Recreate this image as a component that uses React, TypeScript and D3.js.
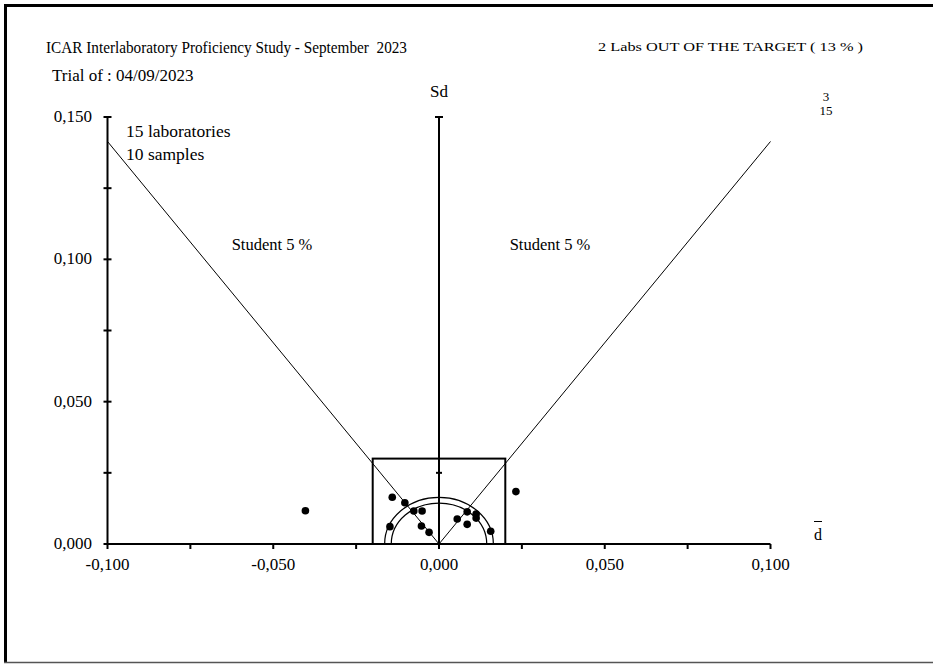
import React from "react";
import * as d3 from "d3";

const titleText = "ICAR Interlaboratory Proficiency Study - September\u00a0 2023";
const outOfTarget = "2 Labs OUT OF THE TARGET ( 13 % )";
const trialText = "Trial of : 04/09/2023";
const infoLines = ["15 laboratories", "10 samples"];
const cornerNums = ["3", "15"];
const studentLabel = "Student 5 %";

const xTicks = [-0.1, -0.05, 0, 0.05, 0.1];
const yTicks = [0, 0.05, 0.1, 0.15];
const minorStep = 0.025;

// lab results: mean deviation (d̄) and standard deviation (Sd)
const labD = [-0.0141, -0.0103, -0.0076, -0.0051, -0.0148, -0.0053, -0.003, 0.0055, 0.0085, 0.0112, 0.0112, 0.0085, 0.0156, 0.0232, -0.0403];
const labSd = [0.0164, 0.0145, 0.0116, 0.0116, 0.0061, 0.0063, 0.0041, 0.0088, 0.0113, 0.0105, 0.0091, 0.0069, 0.0045, 0.0184, 0.0117];

const studentSlope = 1.414;
const targetBox = { d: 0.02, sd: 0.03 };
const circleRadii = [0.0164, 0.0144];

const fmt = (v: number) => d3.format(".3f")(v).replace(".", ",").replace("−", "-");

export default function App() {
  const W = 933, H = 664;
  const x = d3.scaleLinear().domain([-0.1, 0.1]).range([107.5, 770.5]);
  const y = d3.scaleLinear().domain([0, 0.15]).range([544, 117]);
  const minor = d3.range(0, 0.15 + 1e-9, minorStep);
  const minorX = d3.range(-0.1, 0.1 + 1e-9, minorStep);
  const serif = "'Liberation Serif', 'Times New Roman', serif";

  const arcPath = (r: number) => {
    const rx = x(r) - x(0);
    const ry = y(0) - y(r);
    return `M${x(-r)},${y(0)} A${rx},${ry} 0 0 1 ${x(r)},${y(0)}`;
  };
  const line = d3.line<[number, number]>().x((d) => x(d[0])).y((d) => y(d[1]));

  return (
    <svg width={W} height={H} style={{ position: "absolute", left: 0, top: 0, background: "#fff" }} fontFamily={serif}>
      <rect x={0} y={0} width={W} height={H} fill="#fff" />
      {/* frame */}
      <line x1={5.5} y1={4} x2={5.5} y2={663} stroke="#000" strokeWidth={3} />
      <line x1={4} y1={5.5} x2={W} y2={5.5} stroke="#000" strokeWidth={3} />
      <line x1={4} y1={662.5} x2={W} y2={662.5} stroke="#555" strokeWidth={1.5} />

      {/* texts */}
      <text x={46} y={53} fontSize={17} textLength={361} lengthAdjust="spacingAndGlyphs">{titleText}</text>
      <text x={598} y={51} fontSize={13} textLength={265} lengthAdjust="spacingAndGlyphs">{outOfTarget}</text>
      <text x={52} y={81} fontSize={17}>{trialText}</text>
      <text x={x(0)} y={97} fontSize={17} textAnchor="middle">Sd</text>
      {cornerNums.map((t, i) => (
        <text key={t} x={826} y={101 + i * 14} fontSize={13} textAnchor="middle">{t}</text>
      ))}
      {infoLines.map((t, i) => (
        <text key={t} x={126} y={137 + i * 23} fontSize={17.5}>{t}</text>
      ))}
      <text x={272} y={250} fontSize={16.5} textAnchor="middle">{studentLabel}</text>
      <text x={550} y={250} fontSize={16.5} textAnchor="middle">{studentLabel}</text>
      <text x={818} y={540} fontSize={16} textAnchor="middle">d</text>
      <line x1={814} y1={521.5} x2={822} y2={521.5} stroke="#000" strokeWidth={1} />

      {/* student lines */}
      <path d={line([[-0.1, 0.1 * studentSlope], [0, 0], [0.1, 0.1 * studentSlope]]) || ""} fill="none" stroke="#000" strokeWidth={1} />

      {/* target box */}
      <rect x={x(-targetBox.d)} y={y(targetBox.sd)} width={x(targetBox.d) - x(-targetBox.d)} height={y(0) - y(targetBox.sd)} fill="none" stroke="#000" strokeWidth={2} />

      {/* semicircles */}
      {circleRadii.map((r) => (
        <path key={r} d={arcPath(r)} fill="none" stroke="#000" strokeWidth={1.2} />
      ))}

      {/* y axis */}
      <line x1={x(-0.1)} y1={y(0.15)} x2={x(-0.1)} y2={y(0)} stroke="#000" strokeWidth={2} />
      {minor.map((v) => (
        <line key={v} x1={x(-0.1) - 4} x2={x(-0.1) + 4} y1={y(v)} y2={y(v)} stroke="#000" strokeWidth={2} />
      ))}
      {yTicks.map((v) => (
        <text key={v} x={92} y={y(v) + 5} fontSize={17} textAnchor="end">{fmt(v)}</text>
      ))}

      {/* center Sd axis */}
      <line x1={x(0)} y1={y(0.15)} x2={x(0)} y2={y(0)} stroke="#000" strokeWidth={2} />
      <line x1={x(0) - 4} x2={x(0) + 4} y1={y(0.15)} y2={y(0.15)} stroke="#000" strokeWidth={2} />
      <line x1={x(0) - 3} x2={x(0) + 3} y1={y(0.025)} y2={y(0.025)} stroke="#000" strokeWidth={2} />

      {/* x axis */}
      <line x1={x(-0.1)} y1={y(0)} x2={x(0.1)} y2={y(0)} stroke="#000" strokeWidth={2} />
      {minorX.map((v) => (
        <line key={v} x1={x(v)} x2={x(v)} y1={y(0)} y2={y(0) + 5} stroke="#000" strokeWidth={2} />
      ))}
      {xTicks.map((v) => (
        <text key={v} x={x(v)} y={570} fontSize={17} textAnchor="middle">{fmt(v)}</text>
      ))}

      {/* lab points */}
      {labD.map((d, i) => (
        <circle key={i} cx={x(d)} cy={y(labSd[i])} r={3.8} fill="#000" />
      ))}
    </svg>
  );
}
